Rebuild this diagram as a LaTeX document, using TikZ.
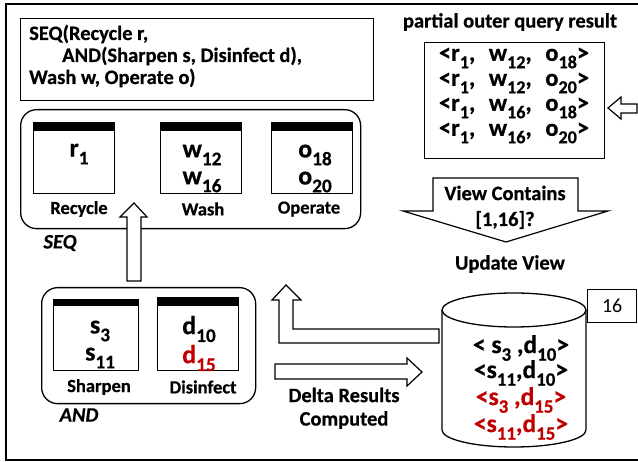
\documentclass[tikz,border=0pt]{standalone}
\usepackage{fontspec}
\usepackage{graphicx}
\setmainfont{Carlito}[
  BoldFont={* Bold}, BoldFeatures={FakeBold=0.5},
  BoldItalicFont={* Bold Italic}, BoldItalicFeatures={FakeBold=0.5}]
\definecolor{dred}{RGB}{192,0,0}
% lowered, reduced subscript in the text font
\newcommand{\lo}[1]{\raisebox{-0.30em}{\scalebox{0.74}{#1}}}
\newcommand{\fs}[2]{\fontsize{#1}{#2}\selectfont}

\tikzset{
  frame/.style={draw, line width=1.3pt},
  rbox/.style={draw, line width=1.3pt, rounded corners=16pt, anchor=north west, inner sep=0pt},
  win/.style={draw, line width=1.3pt, anchor=north west, inner sep=0pt},
  bar/.style={fill=black},
  lbl/.style={font=\bfseries\fs{18.5}{22}, inner sep=0pt},
  big/.style={font=\bfseries\fs{26}{30}, inner sep=0pt},
  tup/.style={font=\bfseries\fs{25.5}{29}, inner sep=0pt},
  row/.style={font=\bfseries\fs{24.5}{28}, inner sep=0pt},
  caption/.style={font=\bfseries\fs{20.5}{24}, inner sep=0pt},
  qline/.style={font=\bfseries\fs{20.5}{24}, inner sep=0pt, anchor=base west},
  tag/.style={font=\bfseries\itshape\fs{20.5}{24}, inner sep=0pt},
  blockarrow/.style={draw, line width=1.2pt, fill=white, line join=miter},
}

\begin{document}
\begin{tikzpicture}[x=1pt,y=-1pt]
\useasboundingbox (0,0) rectangle (638,462);
% outer frame
\draw[line width=1.2pt] (6,4) rectangle (648,460);

% query text
\node[frame, anchor=north west, minimum width=353pt, minimum height=82pt, inner sep=0pt] (query) at (20,18) {};
\node[qline] (q1) at (29,40) {SEQ(Recycle r,};
\node[qline] (q2) at (62,62) {AND(Sharpen s, Disinfect d),};
\node[qline] (q3) at (29,84) {Wash w, Operate o)};

% partial outer query result
\node[caption] (restitle) at (510,22) {partial outer query result};
\node[frame, anchor=north west, minimum width=180pt, minimum height=116pt, inner sep=0pt] (res) at (424,42) {};
\node[row] (r1) at (514,58) {<r\lo{1},\hspace{8pt} w\lo{12},\hspace{8pt} o\lo{18}>};
\node[row] (r2) at (514,83) {<r\lo{1},\hspace{8pt} w\lo{12},\hspace{8pt} o\lo{20}>};
\node[row] (r3) at (514,108) {<r\lo{1},\hspace{8pt} w\lo{16},\hspace{8pt} o\lo{18}>};
\node[row] (r4) at (514,133) {<r\lo{1},\hspace{8pt} w\lo{16},\hspace{8pt} o\lo{20}>};
% arrow into the result box
\coordinate (intip) at (608,108);
\draw[blockarrow] (intip) -- ++(13,-11) -- ++(0,7) -- (637,104) -- (637,113) -- (621,113) -- ++(0,6) -- cycle;

% SEQ operator
\node[rbox, minimum width=340pt, minimum height=119pt] (seq) at (20,109) {};
\node[tag] (seqtag) at (60,243) {SEQ};
\node[win, minimum width=81pt, minimum height=71pt] (recycle) at (33,122) {};
\fill[bar] (recycle.north west) rectangle ++(81,9);
\node[big] (rr) at (79,154) {r\lo{1}};
\node[lbl] (recl) at (79,209) {Recycle};
\node[win, minimum width=81pt, minimum height=71pt] (wash) at (160,122) {};
\fill[bar] (wash.north west) rectangle ++(81,9);
\node[big] (w1) at (202,155) {w\lo{12}};
\node[big] (w2) at (202,182) {w\lo{16}};
\node[lbl] (washl) at (203,209) {Wash};
\node[win, minimum width=81pt, minimum height=71pt] (operate) at (271,122) {};
\fill[bar] (operate.north west) rectangle ++(81,9);
\node[big] (o1) at (315,155) {o\lo{18}};
\node[big] (o2) at (315,182) {o\lo{20}};
\node[lbl] (operl) at (309,209) {Operate};

% AND operator
\node[rbox, minimum width=214pt, minimum height=116pt] (and) at (41,287) {};
\node[tag] (andtag) at (79,415) {AND};
\node[win, minimum width=85pt, minimum height=71pt] (sharpen) at (53,299) {};
\fill[bar] (sharpen.north west) rectangle ++(85,7);
\node[big] (s1) at (100,331) {s\lo{3}};
\node[big] (s2) at (100,358) {s\lo{11}};
\node[lbl] (sharl) at (99,387) {Sharpen};
\node[win, minimum width=81pt, minimum height=73pt] (disinfect) at (157,297) {};
\fill[bar] (disinfect.north west) rectangle ++(81,9);
\node[big] (d1) at (199,329) {d\lo{10}};
\node[big, text=dred] (d2) at (199,358) {d\lo{15}};
\node[lbl] (disl) at (203,387) {Disinfect};

% AND feeds SEQ
\draw[blockarrow] (127,281) -- (127,217) -- (120,217) -- (134,203) -- (147,217) -- (141,217) -- (141,281) -- cycle;

% view check
\draw[blockarrow] (433,178) -- (578,178) -- (578,211) -- (608,211) -- (506,242) -- (403,211) -- (433,211) -- cycle;
\node[caption] (vc1) at (505,193) {View Contains};
\node[caption] (vc2) at (505,220) {[1,16]?};
\node[caption] (upd) at (510,264) {Update View};

% materialised view (cylinder)
\coordinate (view) at (514,310);
\draw[line width=1.3pt, fill=white] (442,310) -- (442,430) arc[start angle=180, end angle=0, x radius=72, y radius=17] -- (586,310);
\draw[line width=1.3pt] (view) ellipse[x radius=72, y radius=17];
\node[draw, line width=1.3pt, minimum width=49pt, minimum height=33pt, anchor=north west, inner sep=0pt, font=\fs{20}{24}] (ts) at (587,289) {16};
\node[tup] (v1) at (521,348) {< s\lo{3} ,d\lo{10}>};
\node[tup] (v2) at (521,373) {<s\lo{11},d\lo{10}>};
\node[tup, text=dred] (v3) at (521,400) {<s\lo{3} ,d\lo{15}>};
\node[tup, text=dred] (v4) at (521,427) {<s\lo{11},d\lo{15}>};

% results flowing back up from the view
\draw[blockarrow] (439,329) -- (293,329) -- (293,300) -- (301,300) -- (286,285) -- (272,300) -- (279,300) -- (279,343) -- (439,343) -- cycle;

% delta results into the view
\draw[blockarrow] (275,364) -- (407,364) -- (407,358) -- (422,372) -- (407,386) -- (407,379) -- (275,379) -- cycle;
\node[caption] (delta1) at (344,395) {Delta Results};
\node[caption] (delta2) at (344,420) {Computed};
\end{tikzpicture}
\end{document}
